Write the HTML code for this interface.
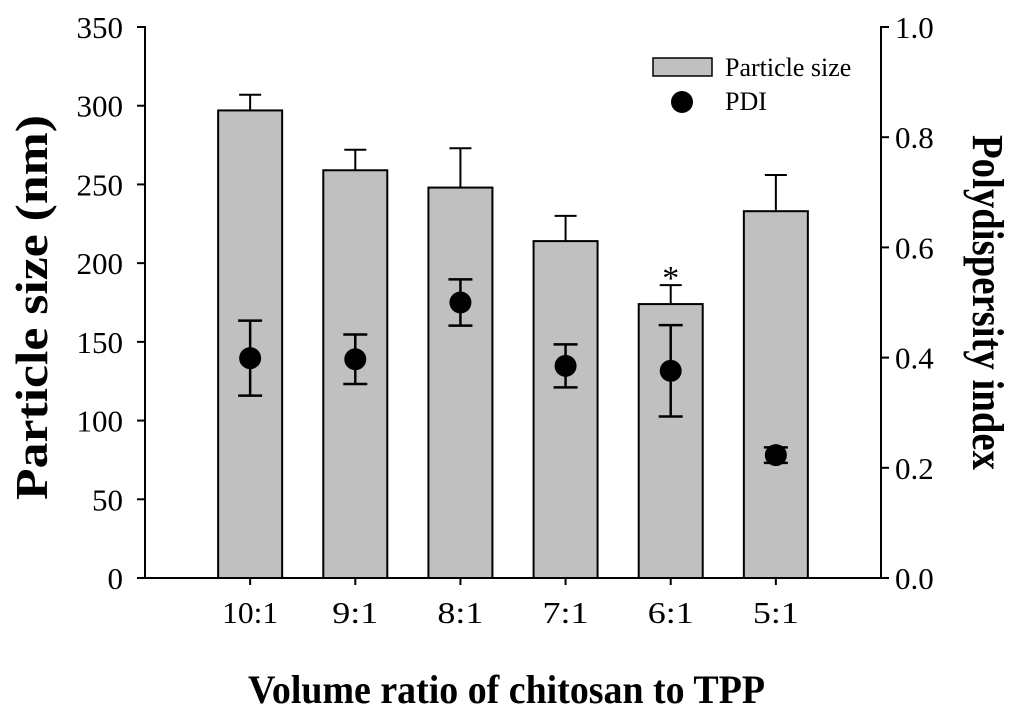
<!DOCTYPE html>
<html><head><meta charset="utf-8"><style>
body{margin:0;background:#fff}
svg{display:block;font-family:"Liberation Serif",serif}
</style></head><body>
<svg id="c" width="1024" height="715"></svg>
<script>
const categories=["10:1","9:1","8:1","7:1","6:1","5:1"];
const sizeValues=[297,259,248,214,174,233];
const sizeErr=[10,13,25,16,12,23];
const pdiValues=[0.399,0.397,0.5,0.385,0.376,0.223];
const pdiErr=[0.068,0.045,0.042,0.039,0.083,0.014];
const leftTicks=[0,50,100,150,200,250,300,350];
const rightTicks=[0.0,0.2,0.4,0.6,0.8,1.0];
const svg=document.getElementById('c');
const NS='http://www.w3.org/2000/svg';
const X0=145,X1=881,Y0=578,Y1=27;
const yL=v=>Y0-(v/350)*(Y0-Y1);
const yR=v=>Y0-v*(Y0-Y1);
const band=(X1-X0)/(categories.length+1);
const xC=i=>X0+band*(i+1);
function mk(tag,attrs,name,text){const e=document.createElementNS(NS,tag);for(const k in attrs)e.setAttribute(k,attrs[k]);


if(text!==undefined)e.textContent=text;svg.appendChild(e);return e;}
function ln(x1,y1,x2,y2,name,w){return mk('line',{x1,y1,x2,y2,stroke:'#000','stroke-width':w||2},name);}
categories.forEach((c,i)=>{
 const x=xC(i),t=yL(sizeValues[i]),te=yL(sizeValues[i]+sizeErr[i]);
 ln(x,t,x,te,'size-error-'+i);ln(x-11,te,x+11,te,'size-error-cap-'+i);
 mk('rect',{x:x-32,y:t,width:64,height:Y0-t,fill:'#c0c0c0',stroke:'#000','stroke-width':2},'bar-'+c);
});
categories.forEach((c,i)=>{
 const x=xC(i),y=yR(pdiValues[i]),a=yR(pdiValues[i]+pdiErr[i]),b=yR(pdiValues[i]-pdiErr[i]);
 ln(x,a,x,b,'pdi-error-'+i,2.5);ln(x-12,a,x+12,a,'pdi-cap-top-'+i,2.5);ln(x-12,b,x+12,b,'pdi-cap-bottom-'+i,2.5);
 mk('circle',{cx:x,cy:y,r:11,fill:'#000'},'pdi-point-'+c);
});
mk('text',{x:xC(4),y:yL(sizeValues[4]+sizeErr[4])+4,'text-anchor':'middle','font-size':34},'significance-asterisk','*');
ln(X0,Y1-1,X0,Y0+1,'left-axis');ln(X1,Y1-1,X1,Y0+1,'right-axis');ln(X0,Y0,X1,Y0,'x-axis');
leftTicks.forEach(v=>{const y=yL(v);ln(X0-8,y,X0,y,'left-tick');
 mk('text',{x:X0-22,y:y+11,'text-anchor':'end','font-size':31},'left-tick-label',String(v));});
rightTicks.forEach(v=>{const y=yR(v);ln(X1,y,X1+8,y,'right-tick');
 mk('text',{x:X1+14,y:y+11,'font-size':31},'right-tick-label',v.toFixed(1));});
categories.forEach((c,i)=>{const x=xC(i);ln(x,Y0,x,Y0+7,'x-tick');
 mk('text',{x:x,y:Y0+45,'text-anchor':'middle','font-size':31,textLength:[56,46,46,46,46,46][i],lengthAdjust:'spacingAndGlyphs'},'x-tick-label',c);});
mk('text',{x:248,y:703,'font-size':40,'font-weight':'bold',textLength:517,lengthAdjust:'spacingAndGlyphs'},'x-axis-title','Volume ratio of chitosan to TPP');
mk('text',{x:0,y:0,'font-size':46,'font-weight':'bold',textLength:385,lengthAdjust:'spacingAndGlyphs',transform:'translate(47,500) rotate(-90)'},'left-axis-title','Particle size (nm)');
mk('text',{x:0,y:0,'font-size':44,'font-weight':'bold',textLength:335,lengthAdjust:'spacingAndGlyphs',transform:'translate(973,135) rotate(90)'},'right-axis-title','Polydispersity index');
mk('rect',{x:653,y:58,width:59,height:18,fill:'#c0c0c0',stroke:'#000','stroke-width':1.5},'legend-bar-swatch');
mk('text',{x:725,y:76,'font-size':26},'legend-particle-size','Particle size');
mk('circle',{cx:682,cy:102,r:11,fill:'#000'},'legend-pdi-swatch');
mk('text',{x:725,y:110,'font-size':26},'legend-pdi','PDI');
</script>
</body></html>
